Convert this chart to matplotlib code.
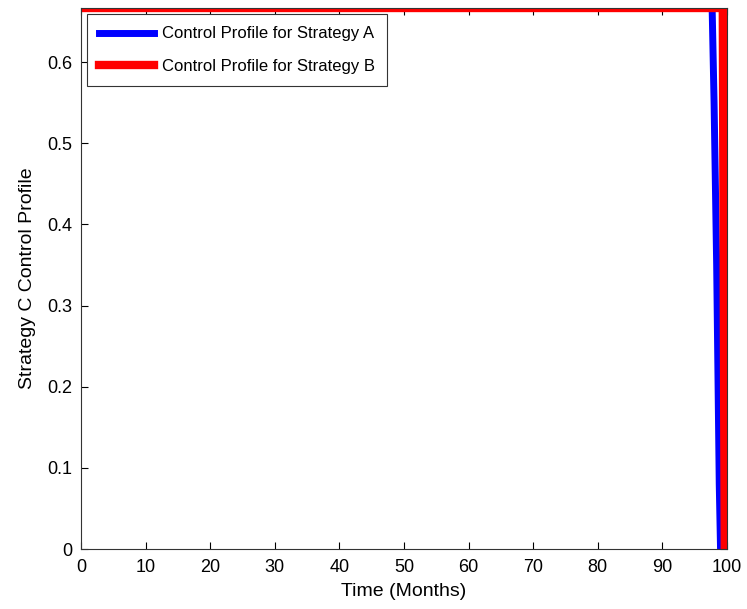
import matplotlib
matplotlib.use('Agg')
import matplotlib.pyplot as plt
import numpy as np

plt.rcParams['font.family'] = ['Liberation Sans', 'DejaVu Sans']

# control profiles
t_a = [0, 97.7, 98.0, 98.4, 98.8, 99.0]
u_a = [0.6667, 0.6667, 0.55, 0.35, 0.08, 0.0]
t_b = [0, 99.35, 99.5, 99.65]
u_b = [0.6667, 0.6667, 0.3, 0.0]

fig = plt.figure(figsize=(7.47, 6.09), dpi=100)
ax = fig.add_axes([81/747, 1 - 549/609, (727-81)/747, (549-8)/609])

ax.plot(t_a, u_a, color='#0000ff', lw=5, label='Control Profile for Strategy A')
ax.plot(t_b, u_b, color='#ff0000', lw=6, label='Control Profile for Strategy B')

ax.set_xlim(0, 100)
ax.set_ylim(0, 0.6667)
ax.set_xticks(np.arange(0, 101, 10))
ax.set_yticks(np.arange(0, 0.61, 0.1))
ax.set_yticklabels(['0', '0.1', '0.2', '0.3', '0.4', '0.5', '0.6'])
ax.tick_params(direction='in', top=True, right=True, labelsize=13, length=5)
ax.tick_params(axis='x', pad=7)
ax.tick_params(axis='y', pad=6)
for s in ax.spines.values():
    s.set_color('#333333')
ax.set_xlabel('Time (Months)', fontsize=14, labelpad=5)
ax.set_ylabel('Strategy C Control Profile', fontsize=14, labelpad=8)

leg = ax.legend(loc='upper left', fontsize=12, fancybox=False, framealpha=1,
                edgecolor='#333333', handlelength=3.3, handletextpad=0.45,
                borderaxespad=0.35, labelspacing=1.05, borderpad=0.75)
leg.get_frame().set_linewidth(0.8)

fig.savefig('out.png', dpi=100)
